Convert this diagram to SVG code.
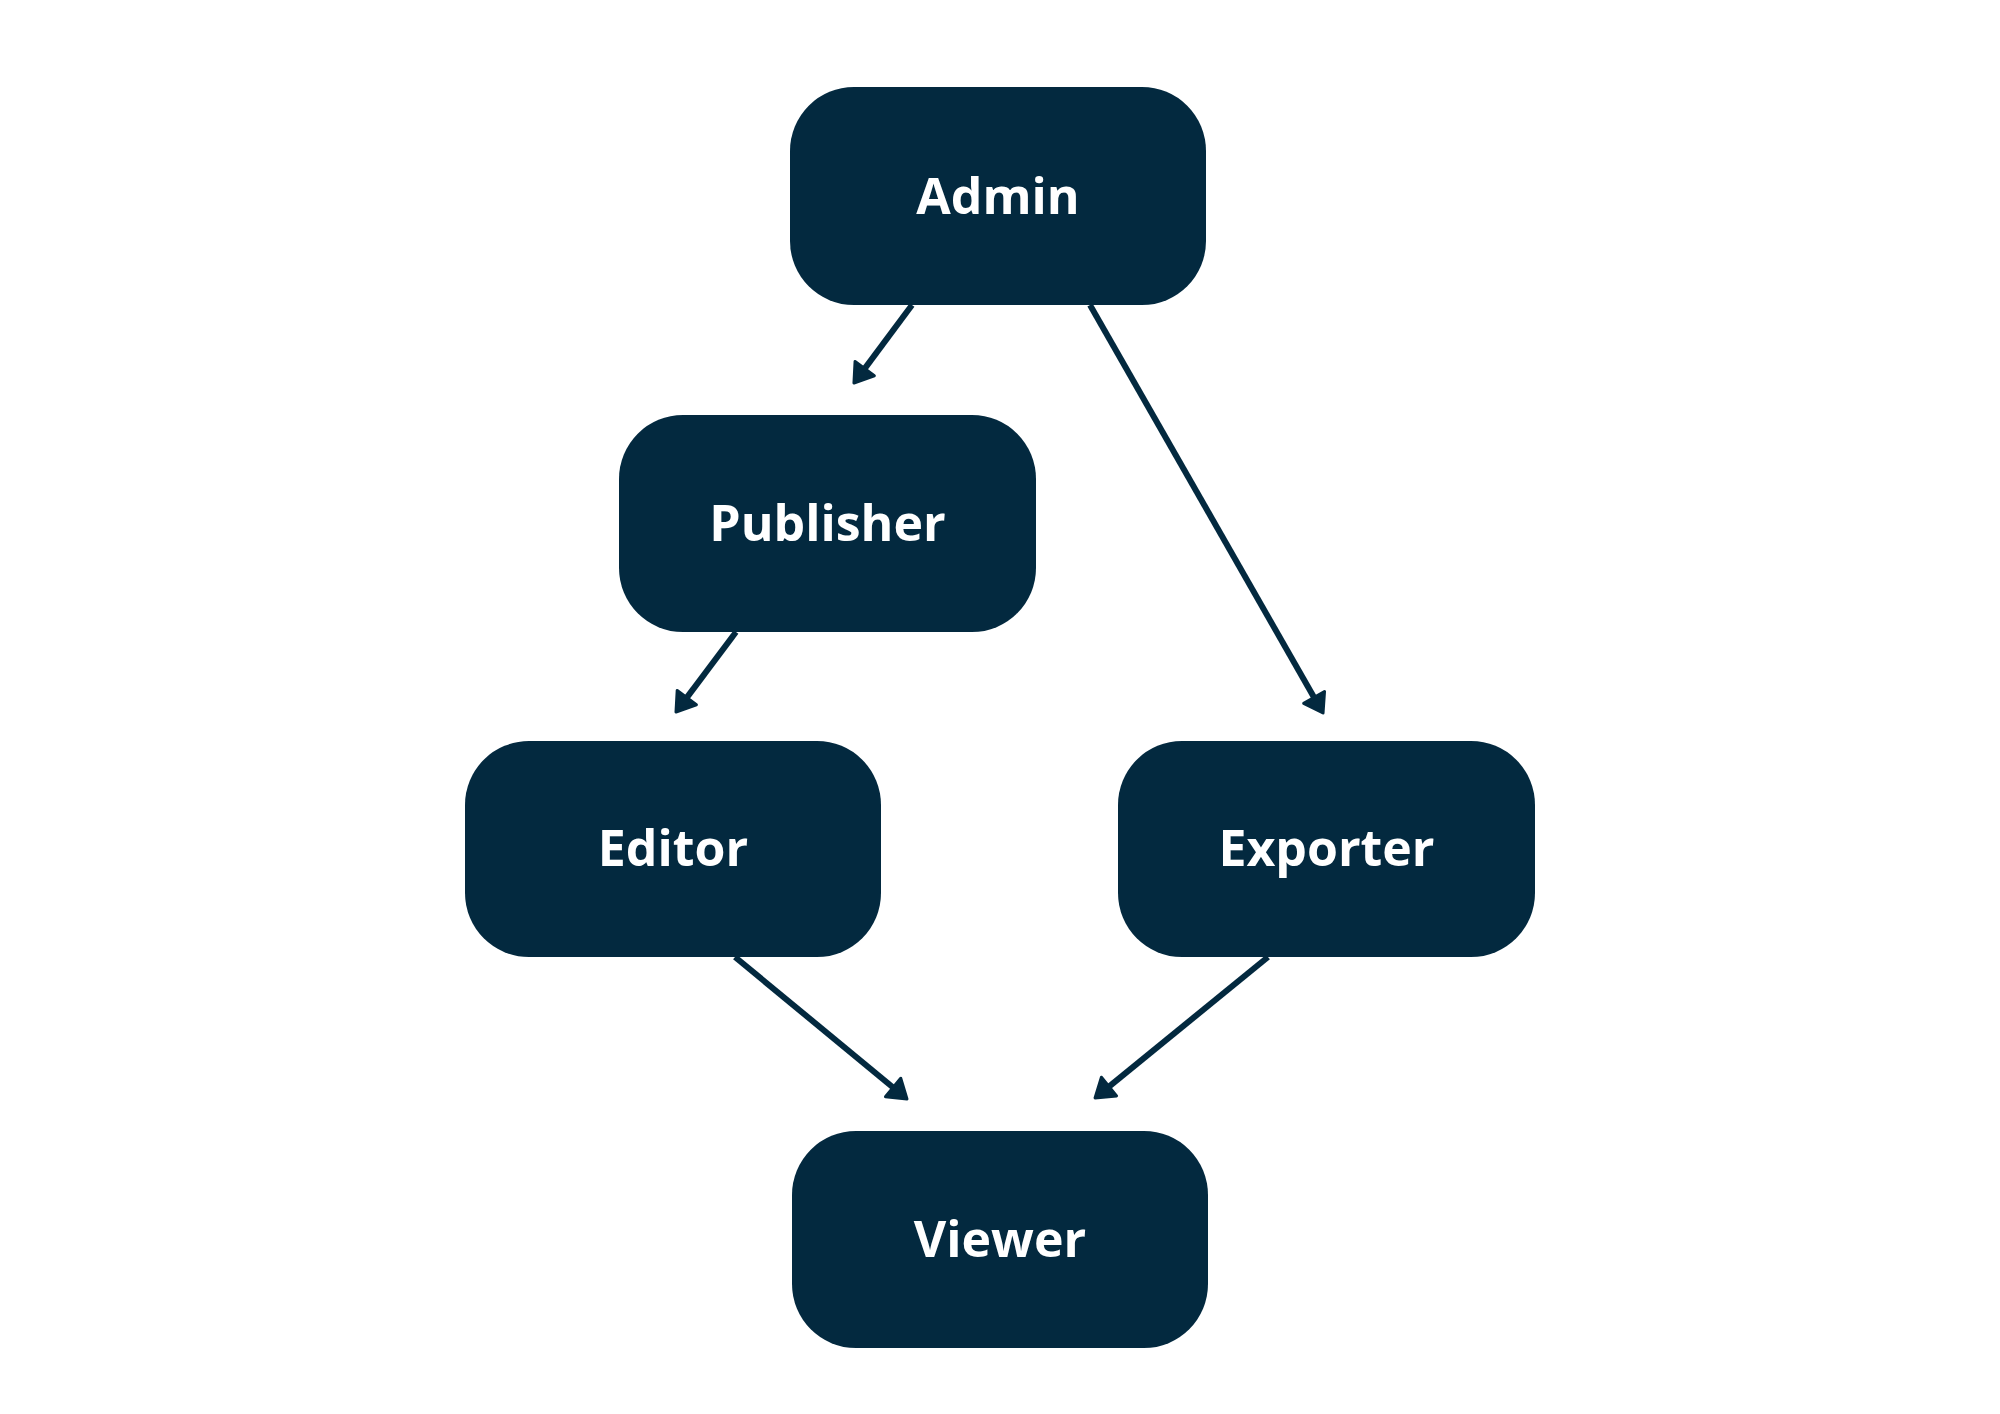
<svg xmlns="http://www.w3.org/2000/svg" width="2000" height="1414" viewBox="0 0 2000 1414">
  <style>
    .node rect { fill: #03293f; }
    .node text { fill: #ffffff; font-family: "Open Sans", "Noto Sans", "Liberation Sans", sans-serif; font-weight: 700; font-size: 50px; text-anchor: middle; }
    .edge { stroke: #03293f; stroke-width: 6; fill: none; marker-end: url(#arrow); }
  </style>
  <defs>
    <marker id="arrow" viewBox="-3 -15 24 30" refX="0" refY="0" markerWidth="24" markerHeight="30" markerUnits="userSpaceOnUse" orient="auto">
      <path d="M0,-12 L18,0 L0,12 Z" fill="#03293f" stroke="#03293f" stroke-width="3" stroke-linejoin="round"/>
    </marker>
  </defs>
  <rect width="2000" height="1414" fill="#ffffff"/>
  <g id="connectors">
    <line class="edge" x1="912" y1="305" x2="864.7" y2="368.6"/>
    <line class="edge" x1="1090" y1="305" x2="1314.1" y2="697.4"/>
    <line class="edge" x1="736" y1="632" x2="686.8" y2="697.6"/>
    <line class="edge" x1="735" y1="957" x2="893.1" y2="1087.5"/>
    <line class="edge" x1="1268" y1="957" x2="1109" y2="1086.6"/>
  </g>
  <g id="node-admin" class="node">
    <rect x="790" y="87" width="416" height="218" rx="64" ry="64"/>
    <text x="998" y="214">Admin</text>
  </g>
  <g id="node-publisher" class="node">
    <rect x="619" y="415" width="417" height="217" rx="64" ry="64"/>
    <text x="827.5" y="541">Publisher</text>
  </g>
  <g id="node-editor" class="node">
    <rect x="465" y="741" width="416" height="216" rx="64" ry="64"/>
    <text x="673" y="866">Editor</text>
  </g>
  <g id="node-exporter" class="node">
    <rect x="1118" y="741" width="417" height="216" rx="64" ry="64"/>
    <text x="1326.5" y="866">Exporter</text>
  </g>
  <g id="node-viewer" class="node">
    <rect x="792" y="1131" width="416" height="217" rx="64" ry="64"/>
    <text x="1000" y="1257">Viewer</text>
  </g>
</svg>
